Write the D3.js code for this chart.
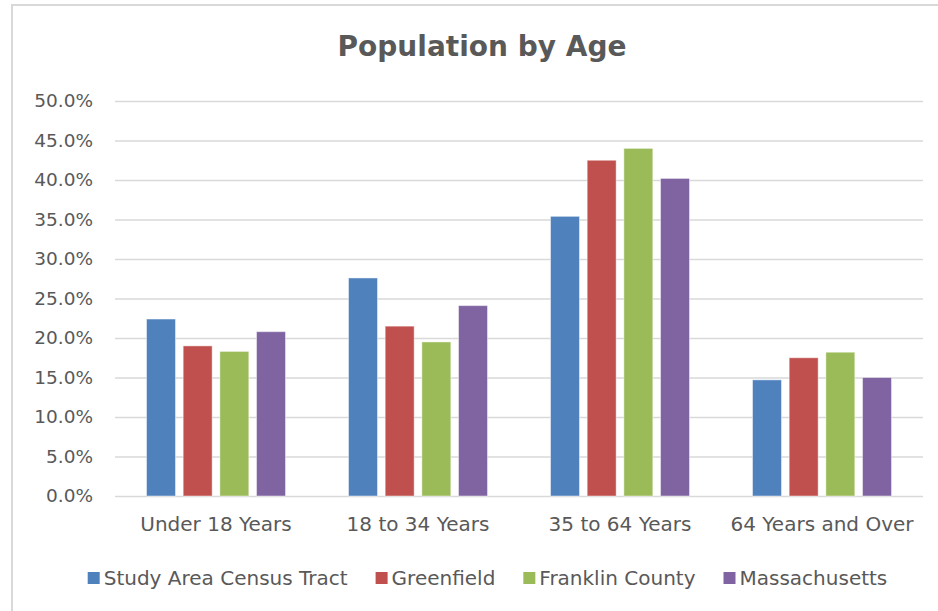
<!DOCTYPE html>
<html>
<head>
<meta charset="utf-8">
<script src="https://cdn.jsdelivr.net/npm/d3@7"></script>
<style>
  html, body { margin: 0; padding: 0; background: #fff; }
  svg { display: block; }
  text { font-family: "DejaVu Sans", sans-serif; fill: #595959; }
</style>
</head>
<body>
<svg id="chart" width="938" height="611"></svg>
<script>
const categories = ["Under 18 Years", "18 to 34 Years", "35 to 64 Years", "64 Years and Over"];
const seriesNames = ["Study Area Census Tract", "Greenfield", "Franklin County", "Massachusetts"];
const studyArea = [22.4, 27.6, 35.4, 14.7];
const greenfield = [19.0, 21.5, 42.5, 17.5];
const franklin = [18.3, 19.5, 44.0, 18.2];
const massachusetts = [20.8, 24.1, 40.2, 15.0];
const yTicks = [0, 5, 10, 15, 20, 25, 30, 35, 40, 45, 50];
const colors = ["#4F81BD", "#C0504D", "#9BBB59", "#8064A2"];
const title = "Population by Age";

const seriesValues = [studyArea, greenfield, franklin, massachusetts];

const svg = d3.select("#chart");

// chart area border (Excel-style)
svg.append("rect")
  .attr("x", 12).attr("y", 5)
  .attr("width", 960).attr("height", 640)
  .attr("fill", "#fff")
  .attr("stroke", "#d9d9d9").attr("stroke-width", 2);

const plot = { left: 115, right: 923, top: 101, bottom: 496 };

const x0 = d3.scaleBand()
  .domain(categories)
  .range([plot.left, plot.right])
  .paddingInner(0.312)
  .paddingOuter(0.156);

const x1 = d3.scaleBand()
  .domain(d3.range(seriesNames.length))
  .range([0, x0.bandwidth()])
  .paddingInner(0.21)
  .paddingOuter(0);

const y = d3.scaleLinear().domain([0, 50]).range([plot.bottom, plot.top]);

// gridlines + tick labels
const yAxis = d3.axisLeft(y)
  .tickValues(yTicks)
  .tickSize(-(plot.right - plot.left))
  .tickPadding(22)
  .tickFormat(d => d3.format(".1f")(d) + "%");

const gy = svg.append("g")
  .attr("transform", `translate(${plot.left},0)`)
  .call(yAxis);
gy.select(".domain").remove();
gy.selectAll(".tick line").attr("stroke", "#d9d9d9").attr("stroke-width", 1.3);
gy.selectAll(".tick text")
  .attr("font-size", 18.5)
  .attr("font-family", "DejaVu Sans, sans-serif")
  .attr("fill", "#595959");

// bars
const data = [];
categories.forEach((c, ci) => {
  seriesValues.forEach((vals, si) => {
    data.push({ cat: c, s: si, v: vals[ci] });
  });
});

svg.append("g").selectAll("rect")
  .data(data)
  .join("rect")
  .attr("x", d => x0(d.cat) + x1(d.s))
  .attr("y", d => y(d.v))
  .attr("width", x1.bandwidth())
  .attr("height", d => y(0) - y(d.v))
  .attr("fill", d => colors[d.s])
  .attr("stroke", "#ffffff")
  .attr("stroke-opacity", 0.45)
  .attr("stroke-width", 1);

// category axis labels
const xAxis = d3.axisBottom(x0).tickSize(0).tickPadding(21);
const gx = svg.append("g")
  .attr("transform", `translate(0,${plot.bottom})`)
  .call(xAxis);
gx.select(".domain").remove();
gx.selectAll(".tick text")
  .attr("font-size", 20)
  .attr("font-family", "DejaVu Sans, sans-serif")
  .attr("fill", "#595959");

// title
svg.append("text")
  .attr("x", 482).attr("y", 56)
  .attr("text-anchor", "middle")
  .attr("font-size", 28)
  .attr("font-weight", "bold")
  .text(title);

// legend
const legend = svg.append("g");
const items = legend.selectAll("g")
  .data(seriesNames)
  .join("g");
items.append("rect")
  .attr("width", 12).attr("height", 12)
  .attr("y", -6)
  .attr("fill", (d, i) => colors[i]);
items.append("text")
  .attr("x", 16)
  .attr("dy", "0.35em")
  .attr("font-size", 20)
  .text(d => d);

let cx = 0;
const gapBetween = 28;
items.each(function() {
  const g = d3.select(this);
  const tw = g.select("text").node().getComputedTextLength();
  g.attr("transform", `translate(${cx},578)`);
  cx += 16 + tw + gapBetween;
});
const totalW = cx - gapBetween;
legend.attr("transform", `translate(${487.5 - totalW / 2},0)`);
</script>
</body>
</html>
